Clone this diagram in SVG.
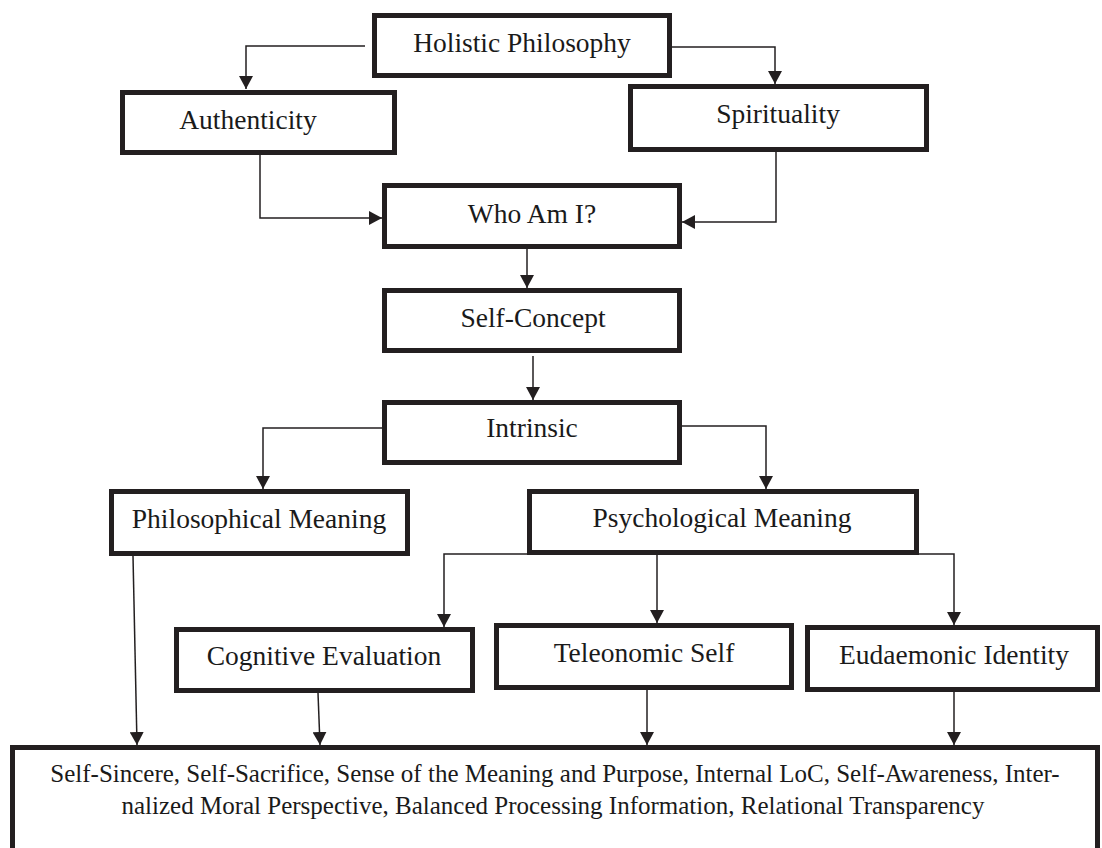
<svg xmlns="http://www.w3.org/2000/svg" width="1102" height="848" viewBox="0 0 1102 848">
<style>
.box{fill:#fff;stroke:#231f20;stroke-width:5}
.lbl{font-family:"Liberation Serif","Times New Roman",serif;font-size:27.5px;fill:#1a1a1a;text-anchor:middle}
.big{font-family:"Liberation Serif","Times New Roman",serif;font-size:25px;fill:#1a1a1a;text-anchor:middle}
.con{fill:none;stroke:#231f20;stroke-width:1.5;marker-end:url(#ah)}
</style>
<defs>
<marker id="ah" markerUnits="userSpaceOnUse" markerWidth="13" markerHeight="14" refX="13" refY="7" orient="auto">
<path d="M0,0 L13,7 L0,14 Z" fill="#231f20"/>
</marker>
</defs>
<rect width="1102" height="848" fill="#fff"/>
<g id="connectors">
<path class="con" d="M365,46 H246 V89"/>
<path class="con" d="M672,47 H775 V84"/>
<path class="con" d="M260,155 V218 H382"/>
<path class="con" d="M776,152 V222 H682"/>
<path class="con" d="M527,249 V288"/>
<path class="con" d="M533,356 V400"/>
<path class="con" d="M382,428 H263 V489"/>
<path class="con" d="M682,426 H766 V489"/>
<path class="con" d="M527,554 H444 V627"/>
<path class="con" d="M657,555 V623"/>
<path class="con" d="M918,554 H954 V625"/>
<path class="con" d="M133,556 L137,745"/>
<path class="con" d="M318,693 L320,745"/>
<path class="con" d="M647,690 V745"/>
<path class="con" d="M954,692 V745"/>
</g>
<g id="holistic"><rect class="box" x="374.5" y="15.5" width="295" height="60"/><text class="lbl" x="522" y="52">Holistic Philosophy</text></g>
<g id="authenticity"><rect class="box" x="122.5" y="92.5" width="272" height="60"/><text class="lbl" x="248" y="129">Authenticity</text></g>
<g id="spirituality"><rect class="box" x="630.5" y="86.5" width="296" height="63"/><text class="lbl" x="778" y="123">Spirituality</text></g>
<g id="whoami"><rect class="box" x="384.5" y="185.5" width="295" height="61"/><text class="lbl" x="532" y="223">Who Am I?</text></g>
<g id="selfconcept"><rect class="box" x="384.5" y="290.5" width="295" height="60"/><text class="lbl" x="533" y="327">Self-Concept</text></g>
<g id="intrinsic"><rect class="box" x="384.5" y="402.5" width="295" height="60"/><text class="lbl" x="532" y="437">Intrinsic</text></g>
<g id="philosophical"><rect class="box" x="111.5" y="491.5" width="296" height="62"/><text class="lbl" x="259" y="528">Philosophical Meaning</text></g>
<g id="psychological"><rect class="box" x="529.5" y="491.5" width="387" height="61"/><text class="lbl" x="722" y="527">Psychological Meaning</text></g>
<g id="cognitive"><rect class="box" x="176.5" y="629.5" width="296" height="61"/><text class="lbl" x="324" y="665">Cognitive Evaluation</text></g>
<g id="teleonomic"><rect class="box" x="496.5" y="625.5" width="295" height="62"/><text class="lbl" x="644" y="662">Teleonomic Self</text></g>
<g id="eudaemonic"><rect class="box" x="807.5" y="627.5" width="290" height="62"/><text class="lbl" x="954" y="664">Eudaemonic Identity</text></g>
<g id="outcomes"><rect class="box" x="12.5" y="747.5" width="1085" height="120"/>
<text class="big" x="555" y="782">Self-Sincere, Self-Sacrifice, Sense of the Meaning and Purpose, Internal LoC, Self-Awareness, Inter-</text>
<text class="big" x="553" y="814">nalized Moral Perspective, Balanced Processing Information, Relational Transparency</text></g>
</svg>
